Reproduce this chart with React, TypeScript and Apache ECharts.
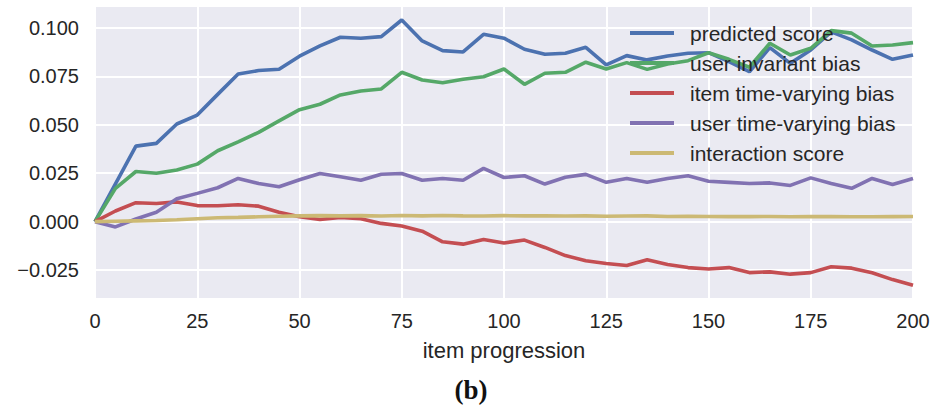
import React, { useEffect, useRef } from "react";
import * as echarts from "echarts";

const xValues = [0, 5, 10, 15, 20, 25, 30, 35, 40, 45, 50, 55, 60, 65, 70, 75, 80, 85, 90, 95, 100, 105, 110, 115, 120, 125, 130, 135, 140, 145, 150, 155, 160, 165, 170, 175, 180, 185, 190, 195, 200];

const predictedScore = [0, 0.0195, 0.039, 0.0404, 0.0504, 0.055, 0.0657, 0.0762, 0.078, 0.0787, 0.0854, 0.0907, 0.0952, 0.0947, 0.0955, 0.1041, 0.0933, 0.0883, 0.0876, 0.0967, 0.0947, 0.089, 0.0864, 0.0869, 0.09, 0.0809, 0.0857, 0.0835, 0.0855, 0.0869, 0.0872, 0.0826, 0.0774, 0.0898, 0.0817, 0.0886, 0.098, 0.0938, 0.0886, 0.0838, 0.086];

const userInvariantBias = [0, 0.0172, 0.0259, 0.025, 0.0267, 0.0297, 0.0366, 0.0412, 0.0461, 0.052, 0.0578, 0.0606, 0.0654, 0.0674, 0.0685, 0.0771, 0.0731, 0.0717, 0.0735, 0.0748, 0.0788, 0.0709, 0.0766, 0.0771, 0.0823, 0.0788, 0.0821, 0.0786, 0.0814, 0.0831, 0.0872, 0.0838, 0.0797, 0.0921, 0.086, 0.0895, 0.0986, 0.0973, 0.0907, 0.0912, 0.0924];

const itemTimeVaryingBias = [0, 0.0055, 0.0098, 0.0094, 0.0102, 0.0083, 0.0082, 0.0087, 0.008, 0.0049, 0.0025, 0.0011, 0.0022, 0.0015, -0.0009, -0.0022, -0.0049, -0.0104, -0.0116, -0.0092, -0.011, -0.0095, -0.0133, -0.0175, -0.0202, -0.0216, -0.0226, -0.0197, -0.0221, -0.0237, -0.0244, -0.0237, -0.0263, -0.0259, -0.0271, -0.0263, -0.0233, -0.024, -0.0264, -0.0299, -0.0328];

const userTimeVaryingBias = [0, -0.0027, 0.0014, 0.0049, 0.0118, 0.0146, 0.0175, 0.0223, 0.0197, 0.018, 0.0216, 0.0249, 0.0232, 0.0214, 0.0245, 0.0249, 0.0214, 0.0223, 0.0214, 0.0275, 0.0228, 0.0237, 0.0194, 0.0229, 0.0244, 0.0203, 0.0223, 0.0203, 0.0223, 0.0237, 0.0209, 0.0203, 0.0197, 0.02, 0.0187, 0.0226, 0.0197, 0.0172, 0.0223, 0.0192, 0.0223];

const interactionScore = [0, 0.0002, 0.0004, 0.0006, 0.001, 0.0015, 0.002, 0.0022, 0.0025, 0.0028, 0.003, 0.0031, 0.003, 0.0031, 0.0029, 0.0032, 0.003, 0.0032, 0.003, 0.0029, 0.0031, 0.003, 0.003, 0.0029, 0.003, 0.0028, 0.0029, 0.003, 0.0027, 0.0028, 0.0027, 0.0026, 0.0026, 0.0027, 0.0025, 0.0026, 0.0026, 0.0025, 0.0025, 0.0026, 0.0027];

const seriesNames = ["predicted score", "user invariant bias", "item time-varying bias", "user time-varying bias", "interaction score"];
const seriesColors = ["#4C72B0", "#55A868", "#C44E52", "#8172B2", "#CCB974"];

const yTicks = [-0.025, 0, 0.025, 0.05, 0.075, 0.1];
const xAxisTitle = "item progression";
const caption = "(b)";

export default function App() {
  const ref = useRef<HTMLDivElement>(null);
  useEffect(() => {
    const chart = echarts.init(ref.current!, null, { renderer: "svg" });
    const font = "'Liberation Sans', Arial, sans-serif";
    const allData = [predictedScore, userInvariantBias, itemTimeVaryingBias, userTimeVaryingBias, interactionScore];
    const series = allData.map((d, k) => ({
      name: seriesNames[k],
      type: "line",
      data: xValues.map((x, i) => [x, d[i]]),
      symbol: "none",
      showSymbol: false,
      lineStyle: { color: seriesColors[k], width: 3.6 },
      itemStyle: { color: seriesColors[k] },
      emphasis: { disabled: true },
    }));
    chart.setOption({
      animation: false,
      backgroundColor: "#ffffff",
      grid: {
        left: 95,
        right: 23,
        top: 7,
        bottom: 110,
        show: true,
        backgroundColor: "#EAEAF2",
        borderWidth: 0,
      },
      xAxis: {
        type: "value",
        min: 0,
        max: 200,
        interval: 25,
        axisLine: { show: false },
        axisTick: { show: false },
        splitLine: { show: true, lineStyle: { color: "#ffffff", width: 2 } },
        axisLabel: { color: "#262626", fontSize: 20, fontFamily: font, margin: 13 },
        name: xAxisTitle,
        nameLocation: "middle",
        nameGap: 41,
        nameTextStyle: { color: "#262626", fontSize: 22, fontFamily: font },
      },
      yAxis: {
        type: "value",
        min: -0.0394,
        max: 0.1108,
        axisLine: { show: false },
        axisTick: { show: false, customValues: yTicks },
        splitLine: { show: true, lineStyle: { color: "#ffffff", width: 2 } },
        axisLabel: {
          customValues: yTicks,
          color: "#262626",
          fontSize: 20,
          fontFamily: font,
          margin: 16,
          formatter: (v: number) => v.toFixed(3).replace("-", "\u2212"),
        },
      },
      legend: {
        orient: "vertical",
        left: 630,
        top: 18,
        padding: 0,
        itemGap: 0,
        itemWidth: 44,
        itemHeight: 4,
        data: seriesNames.map((n, k) => ({
          name: n,
          icon: "path://M0,0 L44,0 L44,4 L0,4 Z",
          itemStyle: { color: seriesColors[k] },
        })),
        textStyle: {
          color: "#262626",
          fontSize: 21,
          fontFamily: font,
          lineHeight: 30,
          padding: [0, 0, 0, 11],
        },
      },
      graphic: [
        {
          type: "text",
          x: 471,
          y: 390,
          style: {
            text: caption,
            align: "center",
            verticalAlign: "middle",
            fontSize: 27,
            fontWeight: "bold",
            fontFamily: "'Liberation Serif', 'DejaVu Serif', serif",
            fill: "#111111",
          },
        },
      ],
      series,
    });
    return () => chart.dispose();
  }, []);
  return (
    <div
      ref={ref}
      style={{ position: "absolute", left: 0, top: 0, width: 936, height: 408 }}
    />
  );
}
